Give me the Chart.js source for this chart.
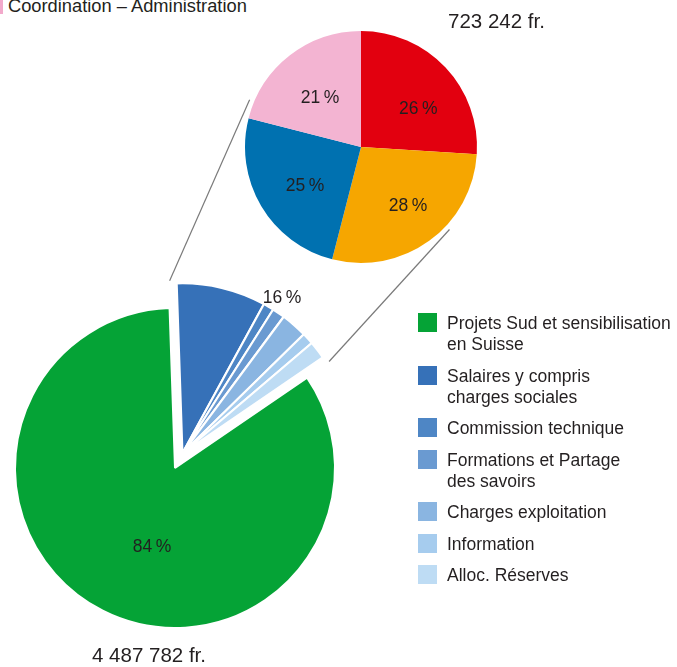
<!DOCTYPE html>
<html>
<head>
<meta charset="utf-8">
<script src="https://cdn.jsdelivr.net/npm/chart.js@4.4.1/dist/chart.umd.min.js"></script>
<style>
  html, body { margin: 0; padding: 0; background: #fff; }
  body {
    width: 677px; height: 667px; position: relative; overflow: hidden;
    font-family: "Liberation Sans", Arial, sans-serif; color: #231f20;
  }
  #big { position: absolute; left: 0; top: 0; }
  #small { position: absolute; left: 239px; top: 25px; }
  .title { position: absolute; left: 8px; top: -3px; font-size: 18.3px; line-height: 18px; white-space: nowrap; }
  .title-bar { position: absolute; left: 0; top: 0; width: 3px; height: 14px; background: #f2a9cb; }
  .total { position: absolute; font-size: 20.5px; line-height: 20px; white-space: nowrap; }
  #legend { position: absolute; left: 418px; top: 313px; }
  .item { display: flex; align-items: flex-start; margin-bottom: 10.5px; }
  .swatch { width: 19px; height: 19px; margin-top: 0; flex: none; }
  .text { margin-left: 10px; font-size: 17.5px; line-height: 21px; white-space: pre-line; }
</style>
</head>
<body>
<div class="title-bar"></div>
<div class="title">Coordination – Administration</div>
<canvas id="big" width="677" height="667"></canvas>
<canvas id="small" width="244" height="244"></canvas>
<div class="total" id="totalAdmin" style="left:448px; top:11px;"></div>
<div class="total" id="totalAll" style="left:92px; top:645px;"></div>
<div id="legend"></div>

<script>
'use strict';

// big pie: share of the total budget, in %
const categories = [
    'Projets Sud et sensibilisation\nen Suisse',
    'Salaires y compris\ncharges sociales',
    'Commission technique',
    'Formations et Partage\ndes savoirs',
    'Charges exploitation',
    'Information',
    'Alloc. Réserves',
];
const shares = [84, 8.5, 1.0, 1.2, 2.5, 1.1, 1.7];
const colours = ['#05a336', '#3671b8', '#4e86c5', '#6a9ad1', '#8ab5e1', '#a6ccee', '#bedcf4'];

// small pie: breakdown of coordination / administration, in %
const adminShares = [26, 28, 25, 21];
const adminColours = ['#e2000f', '#f6a600', '#0071b0', '#f3b4d2'];

const totals = ['723 242 fr.', '4 487 782 fr.'];

const FONT = '"Liberation Sans", Arial, sans-serif';
const EXPLODE = 16.5;        // px the 16 % fan is pulled out
const FAN_SCALE = 170 / 160; // fan drawn slightly larger than the pie
const FAN_CENTRE = 26.85;    // deg, clockwise from 12 o'clock
// where the small pie's labels sit: [deg from 12 o'clock, fraction of radius]
const ADMIN_LABEL_POS = [[56.7, 0.59], [141.7, 0.655], [235, 0.59], [320, 0.55]];

const pct = (v) => Math.round(v) + '\u2009%';
const rad = (deg) => (deg - 90) * Math.PI / 180;

document.getElementById('totalAdmin').textContent = totals[0];
document.getElementById('totalAll').textContent = totals[1];

const legend = document.getElementById('legend');
categories.forEach((name, i) => {
    const item = document.createElement('div');
    item.className = 'item';
    item.innerHTML = '<div class="swatch" style="background:' + colours[i] + '"></div><div class="text"></div>';
    item.querySelector('.text').textContent = name;
    legend.appendChild(item);
});

const sliceLabels = {
    id: 'sliceLabels',
    afterDatasetsDraw(chart) {
        const ctx = chart.ctx;
        ctx.save();
        ctx.font = '17.5px ' + FONT;
        ctx.fillStyle = '#231f20';
        ctx.textAlign = 'center';
        ctx.textBaseline = 'middle';
        chart.getDatasetMeta(0).data.forEach((arc, i) => {
            const [deg, f] = ADMIN_LABEL_POS[i];
            const r = arc.outerRadius * f;
            ctx.fillText(pct(adminShares[i]), arc.x + Math.cos(rad(deg)) * r, arc.y + Math.sin(rad(deg)) * r);
        });
        ctx.restore();
    },
};

const smallCanvas = document.getElementById('small');
const smallChart = new Chart(smallCanvas, {
    type: 'pie',
    data: {
        labels: adminShares.map(pct),
        datasets: [{ data: adminShares, backgroundColor: adminColours, borderWidth: 0 }],
    },
    options: {
        responsive: false,
        animation: false,
        events: [],
        radius: 116,
        layout: { padding: 0 },
        plugins: { legend: { display: false }, tooltip: { enabled: false } },
    },
    plugins: [sliceLabels],
});

function fanGeometry(arcs) {
    const first = arcs[1];
    const last = arcs[arcs.length - 1];
    const mid = (first.startAngle + last.endAngle) / 2;
    return {
        cx: first.x,
        cy: first.y,
        ax: first.x + Math.cos(mid) * EXPLODE,
        ay: first.y + Math.sin(mid) * EXPLODE,
        start: first.startAngle,
        end: last.endAngle,
        r: first.outerRadius * FAN_SCALE,
    };
}

const fanPlugin = {
    id: 'fan',
    beforeDatasetDraw(chart, args) {
        const ctx = chart.ctx;
        const arcs = args.meta.data;
        const g = fanGeometry(arcs);
        arcs.forEach((arc, i) => {
            ctx.save();
            if (i > 0) {
                ctx.translate(g.ax, g.ay);
                ctx.scale(FAN_SCALE, FAN_SCALE);
                ctx.translate(-g.cx, -g.cy);
            }
            arc.draw(ctx);
            ctx.restore();
        });
        return false;
    },
    afterDatasetsDraw(chart) {
        const ctx = chart.ctx;
        const arcs = chart.getDatasetMeta(0).data;
        const g = fanGeometry(arcs);
        const pie = arcs[0];

        // connectors from the fan to the small pie
        const s = smallChart.getDatasetMeta(0).data[0];
        const sx = smallCanvas.offsetLeft + s.x;
        const sy = smallCanvas.offsetTop + s.y;
        const sr = s.outerRadius + 5;
        const pad = 2.3 * Math.PI / 180;
        const fr = g.r + 3;
        const lines = [
            [g.ax + Math.cos(g.start - pad) * fr, g.ay + Math.sin(g.start - pad) * fr, sx + Math.cos(rad(293)) * sr, sy + Math.sin(rad(293)) * sr],
            [g.ax + Math.cos(g.end + pad) * fr, g.ay + Math.sin(g.end + pad) * fr, sx + Math.cos(rad(133)) * sr, sy + Math.sin(rad(133)) * sr],
        ];
        ctx.save();
        ctx.strokeStyle = '#7a7a7a';
        ctx.lineWidth = 1.2;
        lines.forEach(([x1, y1, x2, y2]) => {
            ctx.beginPath();
            ctx.moveTo(x1, y1);
            ctx.lineTo(x2, y2);
            ctx.stroke();
        });

        // percentage labels
        const fanTotal = shares.slice(1).reduce((a, b) => a + b, 0);
        const labels = [[pct(shares[0]), 196.2, 0.514], [pct(fanTotal), 32.2, 1.256]];
        ctx.font = '17.5px ' + FONT;
        ctx.fillStyle = '#231f20';
        ctx.textAlign = 'center';
        ctx.textBaseline = 'middle';
        labels.forEach(([text, deg, f]) => {
            const a = rad(deg);
            ctx.fillText(text, pie.x + Math.cos(a) * pie.outerRadius * f, pie.y + Math.sin(a) * pie.outerRadius * f);
        });
        ctx.restore();
    },
};

const fanShare = shares.slice(1).reduce((a, b) => a + b, 0);
const fanStartDeg = FAN_CENTRE - fanShare / 100 * 180;

new Chart(document.getElementById('big'), {
    type: 'pie',
    data: {
        labels: categories,
        datasets: [{
            data: shares,
            backgroundColor: colours,
            borderColor: '#ffffff',
            borderWidth: 2,
        }],
    },
    options: {
        responsive: false,
        animation: false,
        events: [],
        radius: 160,
        // green slice first, so it starts where the fan ends
        rotation: fanStartDeg + fanShare / 100 * 360,
        layout: { padding: { left: 0, top: 300, right: 327, bottom: 31 } },
        plugins: { legend: { display: false }, tooltip: { enabled: false } },
    },
    plugins: [fanPlugin],
});
</script>
</body>
</html>
